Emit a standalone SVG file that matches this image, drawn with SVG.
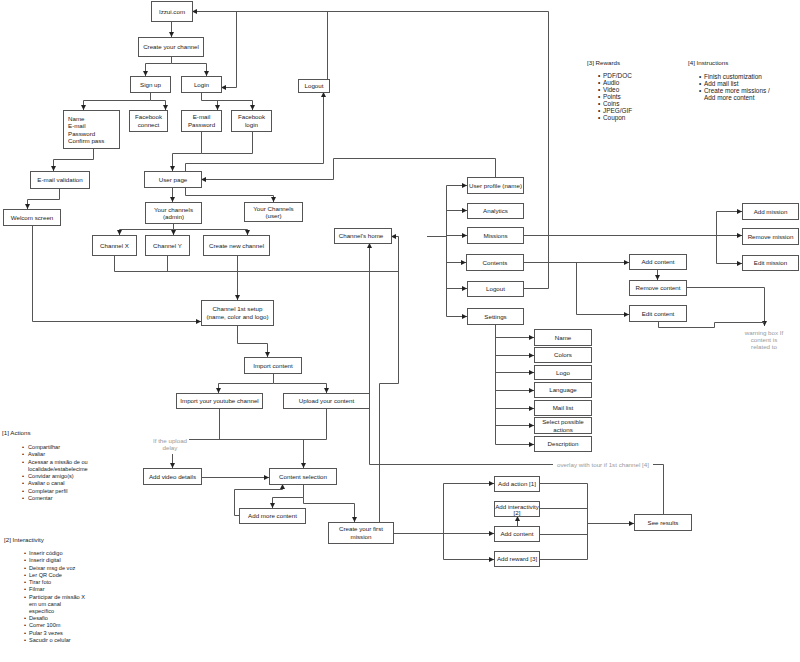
<svg xmlns="http://www.w3.org/2000/svg" width="800" height="662" viewBox="0 0 800 662">
<defs>
<marker id="a" viewBox="0 0 6 6" refX="6" refY="3" markerWidth="5" markerHeight="5" orient="auto" markerUnits="userSpaceOnUse"><path d="M0,0 L6,3 L0,6 z" fill="#222"/></marker>
<style>
.n rect{fill:#fff;stroke:#555;stroke-width:1}
text{font-family:"Liberation Sans",Arial,Helvetica,sans-serif;font-size:6.2px;fill:#222}
.n text{text-anchor:middle}
.c path{fill:none;stroke:#555;stroke-width:1}
.c path.ar{marker-end:url(#a)}
.g{fill:#999}
.gc{text-anchor:middle}
.li{font-size:5.6px}
.lr{font-size:6.4px}
</style>
</defs>
<rect width="800" height="662" fill="#fff"/>
<g class="c" id="connectors">
<path class="ar" d="M171.5,21 V37"/>
<path class="ar" d="M171.5,56 V63.5 H145.5 V76"/>
<path class="ar" d="M171.5,63.5 H206.5 V76"/>
<path class="ar" d="M523,288.5 H548.5 V11.5 H192"/>
<path class="ar" d="M236.5,11.5 V87.5 H221"/>
<path d="M327.5,11.5 V79"/>
<path class="ar" d="M150.5,92 V100.5 H83.5 V110"/>
<path class="ar" d="M150.5,100.5 H165.5 V110"/>
<path class="ar" d="M201.5,92 V100.5 H252.5 V110"/>
<path class="ar" d="M217.5,100.5 V110"/>
<path class="ar" d="M93.5,148 V159.5 H53.5 V171"/>
<path class="ar" d="M59.5,188 V199.5 H27.5 V209"/>
<path class="ar" d="M201.5,131 V153.5 H172.5 V171"/>
<path d="M252.5,131 V153.5 H201.5"/>
<path class="ar" d="M172.5,187 V202"/>
<path class="ar" d="M185.5,187 V195.5 H273.5 V202"/>
<path class="ar" d="M185.5,171 V163.5 H323.5 V92"/>
<path class="ar" d="M495.5,177 V158.5 H333.5 V179.5 H201"/>
<path class="ar" d="M173.5,223 V229.5 H119.5 V235"/>
<path class="ar" d="M173.5,229.5 V235"/>
<path class="ar" d="M173.5,229.5 H247.5 V235"/>
<path d="M114.5,255 V271.5 H398.5"/>
<path d="M167.5,255 V271.5"/>
<path class="ar" d="M237.5,255 V300"/>
<path class="ar" d="M32.5,225 V321.5 H201"/>
<path class="ar" d="M237.5,325 V343.5 H267.5 V357"/>
<path class="ar" d="M273.5,373 V383.5 H218.5 V393"/>
<path class="ar" d="M273.5,383.5 H326.5 V393"/>
<path d="M189,439.5 H326.5 V408"/>
<path d="M219.5,408 V439.5"/>
<path class="ar" d="M303.5,439.5 V468"/>
<path class="ar" d="M172.5,454 V468"/>
<path class="ar" d="M201,477.5 H269"/>
<path class="ar" d="M303.5,484 V497.5 H272.5 V508"/>
<path class="ar" d="M303.5,497.5 V503.5 H354.5 V522"/>
<path class="ar" d="M239,515.5 H234.5 V489.5 H282.5 V484"/>
<path class="ar" d="M379.5,522 V383.5 H398.5 V236.5 H391"/>
<path d="M663.5,514 V464.5 H653"/>
<path class="ar" d="M553,464.5 H369.5 V243"/>
<path d="M427,236.5 H446.5 M446.5,185.5 V316.5" stroke="#777"/>
<path class="ar" d="M446.5,185.5 H467"/>
<path class="ar" d="M446.5,210.5 H467"/>
<path class="ar" d="M446.5,235.5 H467"/>
<path class="ar" d="M446.5,262.5 H466"/>
<path class="ar" d="M446.5,288.5 H467"/>
<path class="ar" d="M446.5,316.5 H467"/>
<path class="ar" d="M523,235.5 H742" stroke="#777"/>
<path d="M716.5,211.5 V263.5"/>
<path class="ar" d="M716.5,211.5 H742"/>
<path class="ar" d="M716.5,263.5 H742"/>
<path class="ar" d="M523,262.5 H629"/>
<path class="ar" d="M576.5,262.5 V314.5 H629"/>
<path class="ar" d="M657.5,269 V280"/>
<path class="ar" d="M686,287.5 H764.5 V326"/>
<path d="M658.5,321 V327.5 H714.5 V322.5 H764.5"/>
<path d="M495.5,324 V444.5"/>
<path class="ar" d="M495.5,337.5 H534"/>
<path class="ar" d="M495.5,355.5 H534"/>
<path class="ar" d="M495.5,372.5 H534"/>
<path class="ar" d="M495.5,390.5 H534"/>
<path class="ar" d="M495.5,408.5 H534"/>
<path class="ar" d="M495.5,425.5 H534"/>
<path class="ar" d="M495.5,444.5 H534"/>
<path class="ar" d="M393,533.5 H494"/>
<path d="M443.5,483.5 V559.5"/>
<path class="ar" d="M443.5,483.5 H494"/>
<path class="ar" d="M443.5,559.5 H494"/>
<path class="ar" d="M517.5,526 V516"/>
<path d="M539,483.5 H587.5 M539,508.5 H587.5 M539,534.5 H587.5 M539,559.5 H587.5 M587.5,483.5 V559.5"/>
<path class="ar" d="M587.5,523.5 H634"/>
</g>
<g class="n" id="izzui"><rect x="151.5" y="1.5" width="41" height="20"/><text x="172" y="13.5">Izzui.com</text></g>
<g class="n" id="create-channel"><rect x="138.5" y="37.5" width="65" height="19"/><text x="171" y="49">Create your channel</text></g>
<g class="n" id="sign-up"><rect x="130.5" y="76.5" width="40" height="16"/><text x="150.5" y="86.5">Sign up</text></g>
<g class="n" id="login"><rect x="181.5" y="76.5" width="40" height="16"/><text x="201.5" y="86.5">Login</text></g>
<g class="n" id="signup-fields"><rect x="63.5" y="110.5" width="56" height="38"/><text x="68" y="121" style="text-anchor:start">Name</text><text x="68" y="128" style="text-anchor:start">E-mail</text><text x="68" y="135.5" style="text-anchor:start">Password</text><text x="68" y="143" style="text-anchor:start">Confirm pass</text></g>
<g class="n" id="facebook-connect"><rect x="129.5" y="110.5" width="38" height="21"/><text x="148.5" y="119">Facebook</text><text x="148.5" y="126.5">connect</text></g>
<g class="n" id="email-password"><rect x="181.5" y="110.5" width="40" height="21"/><text x="201.5" y="119">E-mail</text><text x="201.5" y="126.5">Password</text></g>
<g class="n" id="facebook-login"><rect x="231.5" y="110.5" width="40" height="21"/><text x="251.5" y="119">Facebook</text><text x="251.5" y="126.5">login</text></g>
<g class="n" id="email-validation"><rect x="30.5" y="171.5" width="59" height="17"/><text x="60" y="182">E-mail validation</text></g>
<g class="n" id="welcom-screen"><rect x="3.5" y="209.5" width="57" height="16"/><text x="32" y="219.5">Welcom screen</text></g>
<g class="n" id="user-page"><rect x="144.5" y="171.5" width="57" height="16"/><text x="173" y="181.5">User page</text></g>
<g class="n" id="your-channels-admin"><rect x="145.5" y="202.5" width="56" height="21"/><text x="173.5" y="211.5">Your channels</text><text x="173.5" y="219">(admin)</text></g>
<g class="n" id="your-channels-user"><rect x="244.5" y="202.5" width="58" height="19"/><text x="273.5" y="210.5">Your Channels</text><text x="273.5" y="217.5">(user)</text></g>
<g class="n" id="logout-top"><rect x="298.5" y="79.5" width="31" height="13"/><text x="314" y="88">Logout</text></g>
<g class="n" id="channel-x"><rect x="92.5" y="235.5" width="44" height="20"/><text x="114.5" y="247.5">Channel X</text></g>
<g class="n" id="channel-y"><rect x="145.5" y="235.5" width="44" height="20"/><text x="167.5" y="247.5">Channel Y</text></g>
<g class="n" id="create-new-channel"><rect x="203.5" y="235.5" width="66" height="20"/><text x="236.5" y="247.5">Create new channel</text></g>
<g class="n" id="channel-setup"><rect x="201.5" y="300.5" width="72" height="25"/><text x="237.5" y="311">Channel 1st setup</text><text x="237.5" y="318.5">(name, color and logo)</text></g>
<g class="n" id="import-content"><rect x="244.5" y="357.5" width="57" height="16"/><text x="273" y="367.5">Import content</text></g>
<g class="n" id="import-youtube"><rect x="176.5" y="393.5" width="86" height="15"/><text x="219.5" y="403">Import your youtube channel</text></g>
<g class="n" id="upload-content"><rect x="283.5" y="393.5" width="86" height="15"/><text x="326.5" y="403">Upload your content</text></g>
<g class="n" id="add-video-details"><rect x="143.5" y="468.5" width="58" height="16"/><text x="172.5" y="478.5">Add video details</text></g>
<g class="n" id="content-selection"><rect x="269.5" y="468.5" width="67" height="16"/><text x="303" y="478.5">Content selection</text></g>
<g class="n" id="add-more-content"><rect x="239.5" y="508.5" width="66" height="15"/><text x="272.5" y="518">Add more content</text></g>
<g class="n" id="create-first-mission"><rect x="328.5" y="522.5" width="65" height="21"/><text x="361" y="531">Create your first</text><text x="361" y="538.5">mission</text></g>
<g class="n" id="channels-home"><rect x="334.5" y="228.5" width="57" height="15"/><text x="361" y="238">Channel's home</text></g>
<g class="n" id="user-profile"><rect x="467.5" y="177.5" width="56" height="16"/><text x="495.5" y="187.5">User profile (name)</text></g>
<g class="n" id="analytics"><rect x="467.5" y="203.5" width="56" height="15"/><text x="495.5" y="213">Analytics</text></g>
<g class="n" id="missions"><rect x="467.5" y="227.5" width="56" height="16"/><text x="495.5" y="237.5">Missions</text></g>
<g class="n" id="contents"><rect x="466.5" y="254.5" width="57" height="16"/><text x="495" y="264.5">Contents</text></g>
<g class="n" id="logout"><rect x="467.5" y="281.5" width="56" height="15"/><text x="495.5" y="291">Logout</text></g>
<g class="n" id="settings"><rect x="467.5" y="308.5" width="56" height="16"/><text x="495.5" y="318.5">Settings</text></g>
<g class="n" id="set-name"><rect x="534.5" y="329.5" width="57" height="16"/><text x="563" y="339.5">Name</text></g>
<g class="n" id="set-colors"><rect x="534.5" y="347.5" width="57" height="15"/><text x="563" y="357">Colors</text></g>
<g class="n" id="set-logo"><rect x="534.5" y="365.5" width="57" height="14"/><text x="563" y="374.5">Logo</text></g>
<g class="n" id="set-language"><rect x="534.5" y="382.5" width="57" height="15"/><text x="563" y="392">Language</text></g>
<g class="n" id="set-mail-list"><rect x="534.5" y="400.5" width="57" height="15"/><text x="563" y="410">Mail list</text></g>
<g class="n" id="set-actions"><rect x="534.5" y="417.5" width="57" height="16"/><text x="563" y="424">Select possible</text><text x="563" y="431.5">actions</text></g>
<g class="n" id="set-description"><rect x="534.5" y="436.5" width="57" height="15"/><text x="563" y="446">Description</text></g>
<g class="n" id="add-mission"><rect x="742.5" y="203.5" width="56" height="16"/><text x="770.5" y="213.5">Add mission</text></g>
<g class="n" id="remove-mission"><rect x="742.5" y="228.5" width="56" height="16"/><text x="770.5" y="238.5">Remove mission</text></g>
<g class="n" id="edit-mission"><rect x="742.5" y="255.5" width="56" height="15"/><text x="770.5" y="265">Edit mission</text></g>
<g class="n" id="add-content-menu"><rect x="629.5" y="254.5" width="57" height="15"/><text x="658" y="264">Add content</text></g>
<g class="n" id="remove-content"><rect x="629.5" y="280.5" width="57" height="15"/><text x="658" y="290">Remove content</text></g>
<g class="n" id="edit-content"><rect x="629.5" y="305.5" width="57" height="16"/><text x="658" y="315.5">Edit content</text></g>
<g class="n" id="add-action"><rect x="494.5" y="476.5" width="45" height="15"/><text x="517" y="486">Add action [1]</text></g>
<g class="n" id="add-interactivity"><rect x="494.5" y="501.5" width="45" height="15"/><text x="517" y="508.5">Add interactivity</text><text x="517" y="515">[2]</text></g>
<g class="n" id="add-content-mission"><rect x="494.5" y="526.5" width="45" height="15"/><text x="517" y="536">Add content</text></g>
<g class="n" id="add-reward"><rect x="494.5" y="551.5" width="45" height="15"/><text x="517" y="561">Add reward [3]</text></g>
<g class="n" id="see-results"><rect x="634.5" y="514.5" width="57" height="16"/><text x="663" y="524.5">See results</text></g>
<g id="gray-notes">
<text class="g gc" x="170" y="443">If the upload</text>
<text class="g gc" x="170" y="450">delay</text>
<text class="g gc" x="764" y="335">warning box If</text>
<text class="g gc" x="764" y="342">content is</text>
<text class="g gc" x="764" y="349">related to</text>
<text class="g gc" x="603" y="466.5">overlay with tour if 1st channel [4]</text>
</g>
<g id="rewards-list">
<text x="587" y="65">[3] Rewards</text>
<g class="lr">
<text x="598" y="78" class="lr">•</text><text x="603" y="78" class="lr">PDF/DOC</text>
<text x="598" y="85" class="lr">•</text><text x="603" y="85" class="lr">Audio</text>
<text x="598" y="92" class="lr">•</text><text x="603" y="92" class="lr">Video</text>
<text x="598" y="99" class="lr">•</text><text x="603" y="99" class="lr">Points</text>
<text x="598" y="106" class="lr">•</text><text x="603" y="106" class="lr">Coins</text>
<text x="598" y="113" class="lr">•</text><text x="603" y="113" class="lr">JPEG/GIF</text>
<text x="598" y="120" class="lr">•</text><text x="603" y="120" class="lr">Coupon</text>
</g>
</g>
<g id="instructions-list">
<text x="688" y="65">[4] Instructions</text>
<text x="699" y="79" class="lr">•</text><text x="704" y="79" class="lr">Finish customization</text>
<text x="699" y="86" class="lr">•</text><text x="704" y="86" class="lr">Add mail list</text>
<text x="699" y="93" class="lr">•</text><text x="704" y="93" class="lr">Create more missions /</text>
<text x="704" y="100" class="lr">Add more content</text>
</g>
<g id="actions-list">
<text x="2" y="435">[1] Actions</text>
<text x="22" y="449" class="li">•</text><text x="28" y="449" class="li">Compartilhar</text>
<text x="22" y="456" class="li">•</text><text x="28" y="456" class="li">Avaliar</text>
<text x="22" y="463.5" class="li">•</text><text x="28" y="463.5" class="li">Acessar a missão de ou</text>
<text x="28" y="470.5" class="li">localidade/estabelecime</text>
<text x="22" y="478" class="li">•</text><text x="28" y="478" class="li">Convidar amigo(s)</text>
<text x="22" y="485" class="li">•</text><text x="28" y="485" class="li">Avaliar o canal</text>
<text x="22" y="493" class="li">•</text><text x="28" y="493" class="li">Completar perfil</text>
<text x="22" y="500" class="li">•</text><text x="28" y="500" class="li">Comentar</text>
</g>
<g id="interactivity-list">
<text x="4" y="542">[2] Interactivity</text>
<text x="24" y="555" class="li">•</text><text x="29" y="555" class="li">Inserir código</text>
<text x="24" y="562" class="li">•</text><text x="29" y="562" class="li">Inserir digital</text>
<text x="24" y="570" class="li">•</text><text x="29" y="570" class="li">Deixar msg de voz</text>
<text x="24" y="577" class="li">•</text><text x="29" y="577" class="li">Ler QR Code</text>
<text x="24" y="584" class="li">•</text><text x="29" y="584" class="li">Tirar foto</text>
<text x="24" y="591" class="li">•</text><text x="29" y="591" class="li">Filmar</text>
<text x="24" y="598.5" class="li">•</text><text x="29" y="598.5" class="li">Participar de missão X</text>
<text x="29" y="606" class="li">em um canal</text>
<text x="29" y="613" class="li">específico</text>
<text x="24" y="620" class="li">•</text><text x="29" y="620" class="li">Desafio</text>
<text x="24" y="627" class="li">•</text><text x="29" y="627" class="li">Correr 100m</text>
<text x="24" y="635" class="li">•</text><text x="29" y="635" class="li">Pular 3 vezes</text>
<text x="24" y="642" class="li">•</text><text x="29" y="642" class="li">Sacudir o celular</text>
</g>
</svg>
